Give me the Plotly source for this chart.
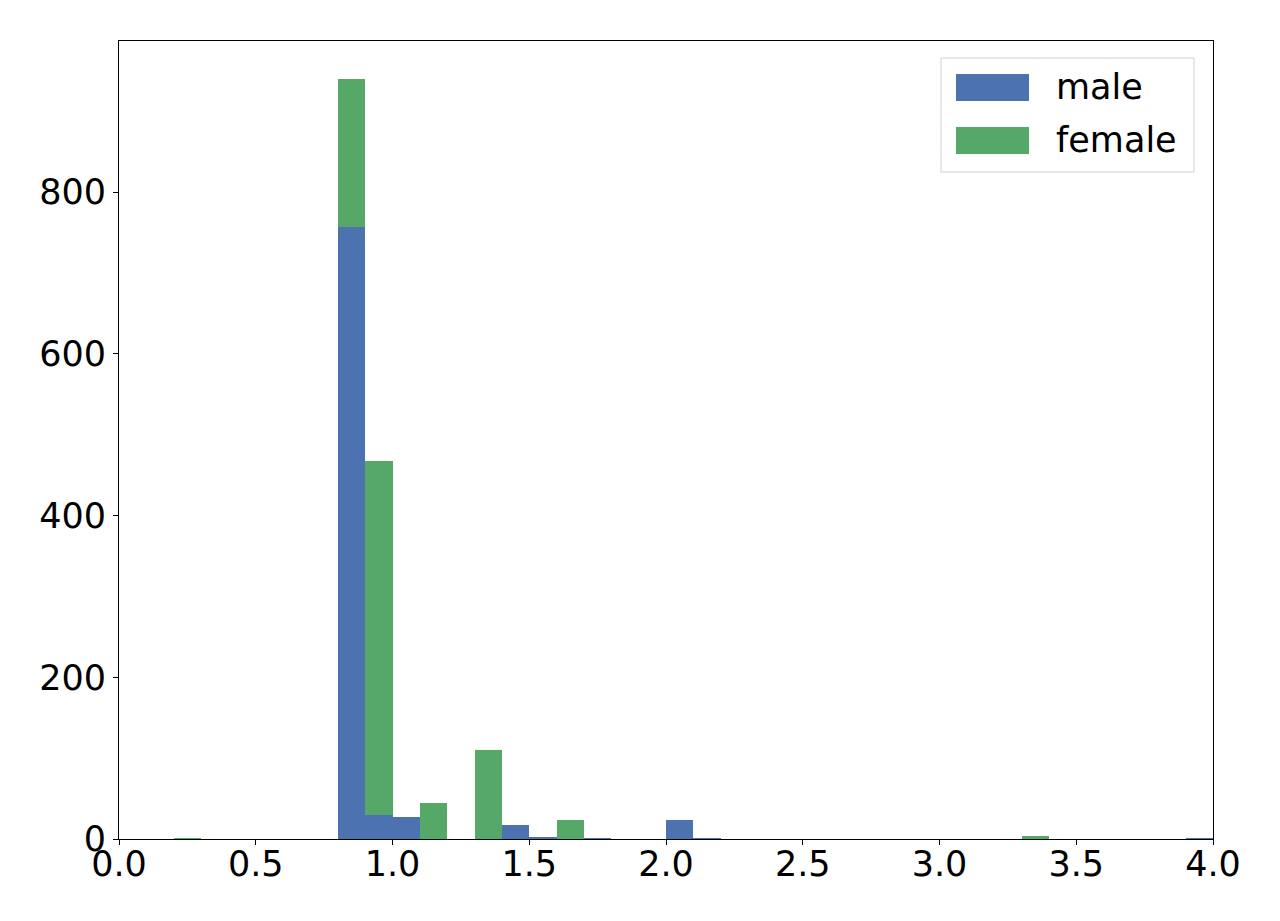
import plotly.graph_objects as go

# bin centres (bins of width 0.1 from 0 to 4)
bin_centers = [0.25, 0.85, 0.95, 1.05, 1.15, 1.35, 1.45, 1.55, 1.65, 1.75,
               2.05, 2.15, 3.35, 3.95]
male_counts = [0, 757, 30, 27, 0, 0, 17, 2, 0, 1, 24, 1, 0, 1]
female_counts = [1, 183, 438, 0, 44, 110, 0, 0, 23, 0, 0, 0, 4, 0]
series_names = ["male", "female"]

blue = "#4C72B0"
green = "#55A868"

fig = go.Figure()
fig.add_trace(go.Bar(x=bin_centers, y=male_counts, width=0.1, name=series_names[0],
                     marker=dict(color=blue, line=dict(width=0)), showlegend=False))
fig.add_trace(go.Bar(x=bin_centers, y=female_counts, width=0.1, name=series_names[1],
                     marker=dict(color=green, line=dict(width=0)), showlegend=False))

# matplotlib-style legend box with wide patches (paper coords from pixel layout)
PX0, PW, PY0, PH = 118, 1094, 838, 798
def px(x):
    return (x - PX0) / PW
def py(y):
    return (PY0 - y) / PH

fig.add_shape(type="rect", xref="paper", yref="paper",
              x0=px(940), x1=px(1193), y0=py(57), y1=py(171),
              line=dict(color="#d0d0d0", width=1), fillcolor="rgba(255,255,255,0.8)")
for i, (name, col) in enumerate(zip(series_names, [blue, green])):
    top = 73 + 53 * i
    fig.add_shape(type="rect", xref="paper", yref="paper",
                  x0=px(955), x1=px(1028), y0=py(top), y1=py(top + 27),
                  line=dict(width=0), fillcolor=col)
    fig.add_annotation(xref="paper", yref="paper", x=px(1053), y=py(top + 13),
                       xanchor="left", yanchor="middle", showarrow=False,
                       text=name, font=dict(size=35, family="DejaVu Sans", color="black"))

fig.update_layout(
    barmode="stack",
    width=1280, height=921,
    margin=dict(l=111, r=75, t=33, b=90),
    paper_bgcolor="white", plot_bgcolor="white",
    font=dict(family="DejaVu Sans", size=35, color="black"),
    showlegend=False,
)
fig.update_xaxes(range=[0, 4], tickvals=[0, 0.5, 1, 1.5, 2, 2.5, 3, 3.5, 4],
                 ticktext=["0.0", "0.5", "1.0", "1.5", "2.0", "2.5", "3.0", "3.5", "4.0"],
                 showgrid=False, zeroline=False, showline=True, linecolor="black",
                 linewidth=1, mirror=True, ticks="outside", ticklen=5, tickcolor="black",
                 ticklabelstandoff=-11)
fig.update_yaxes(range=[0, 987], tickvals=[0, 200, 400, 600, 800],
                 showgrid=False, zeroline=False, showline=True, linecolor="black",
                 linewidth=1, mirror=True, ticks="outside", ticklen=5, tickcolor="black")

fig.write_html("out.html")
